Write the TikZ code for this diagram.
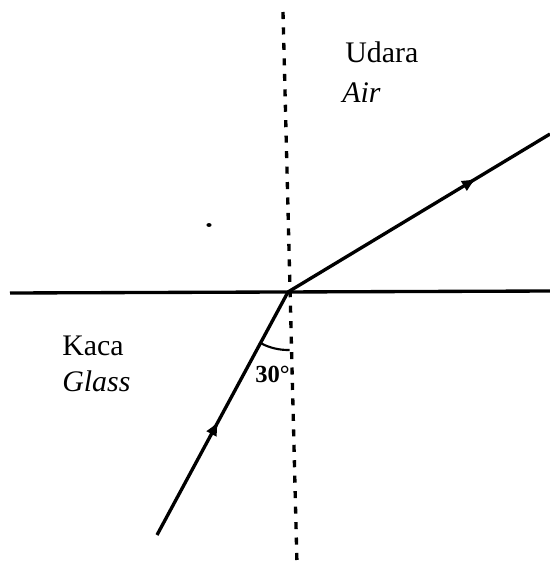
\documentclass[tikz,border=0pt]{standalone}
\usepackage{fontspec}
\setmainfont{Liberation Serif}
\usetikzlibrary{arrows.meta, decorations.markings}
\tikzset{
  ray/.style={line width=1.9pt},
  normal/.style={line width=1.9pt, dash pattern=on 4pt off 4.8pt},
  midarrow/.style={postaction={decorate}, decoration={markings, mark=at position #1 with {\arrow{Latex[length=8.5pt,width=7pt]}}}},
  lbl/.style={font=\fontsize{17}{20}\selectfont, anchor=base west, inner sep=0pt},
  angl/.style={font=\fontsize{14}{17}\selectfont\bfseries, anchor=base west, inner sep=0pt}
}

\begin{document}
\begin{tikzpicture}[x=0.02cm, y=-0.02cm]
  \useasboundingbox (0,0) rectangle (550,572);

  % boundary and normal
  \coordinate (O) at (288,292);
  \coordinate (Ntop) at (283,12);
  \coordinate (Nbot) at (297,565);
  \coordinate (Bleft) at (10,293);
  \coordinate (Bright) at (550,291);
  \draw[normal] (Ntop) -- (Nbot);
  \draw[ray] (Bleft) -- (Bright);

  % rays
  \coordinate (S) at (157,535);
  \coordinate (E) at (550,134);
  \draw[ray, midarrow=0.47] (S) -- (O);
  \draw[ray, midarrow=0.72] (O) -- (E);

  % angle
  \draw[line width=1.2pt] (O) ++(-118.3:1.16cm) arc[start angle=-118.3, end angle=-88.5, radius=1.16cm];
  \node[angl] (ang) at (255,382) {30°};

  % media
  \node[lbl] (udara) at (345,62) {Udara};
  \node[lbl] (air) at (342,102) {\itshape Air};
  \node[lbl] (kaca) at (62,355) {Kaca};
  \node[lbl] (glass) at (62,391) {\itshape Glass};

  \fill (209,225) ellipse [x radius=1.5pt, y radius=1.1pt];
\end{tikzpicture}
\end{document}
